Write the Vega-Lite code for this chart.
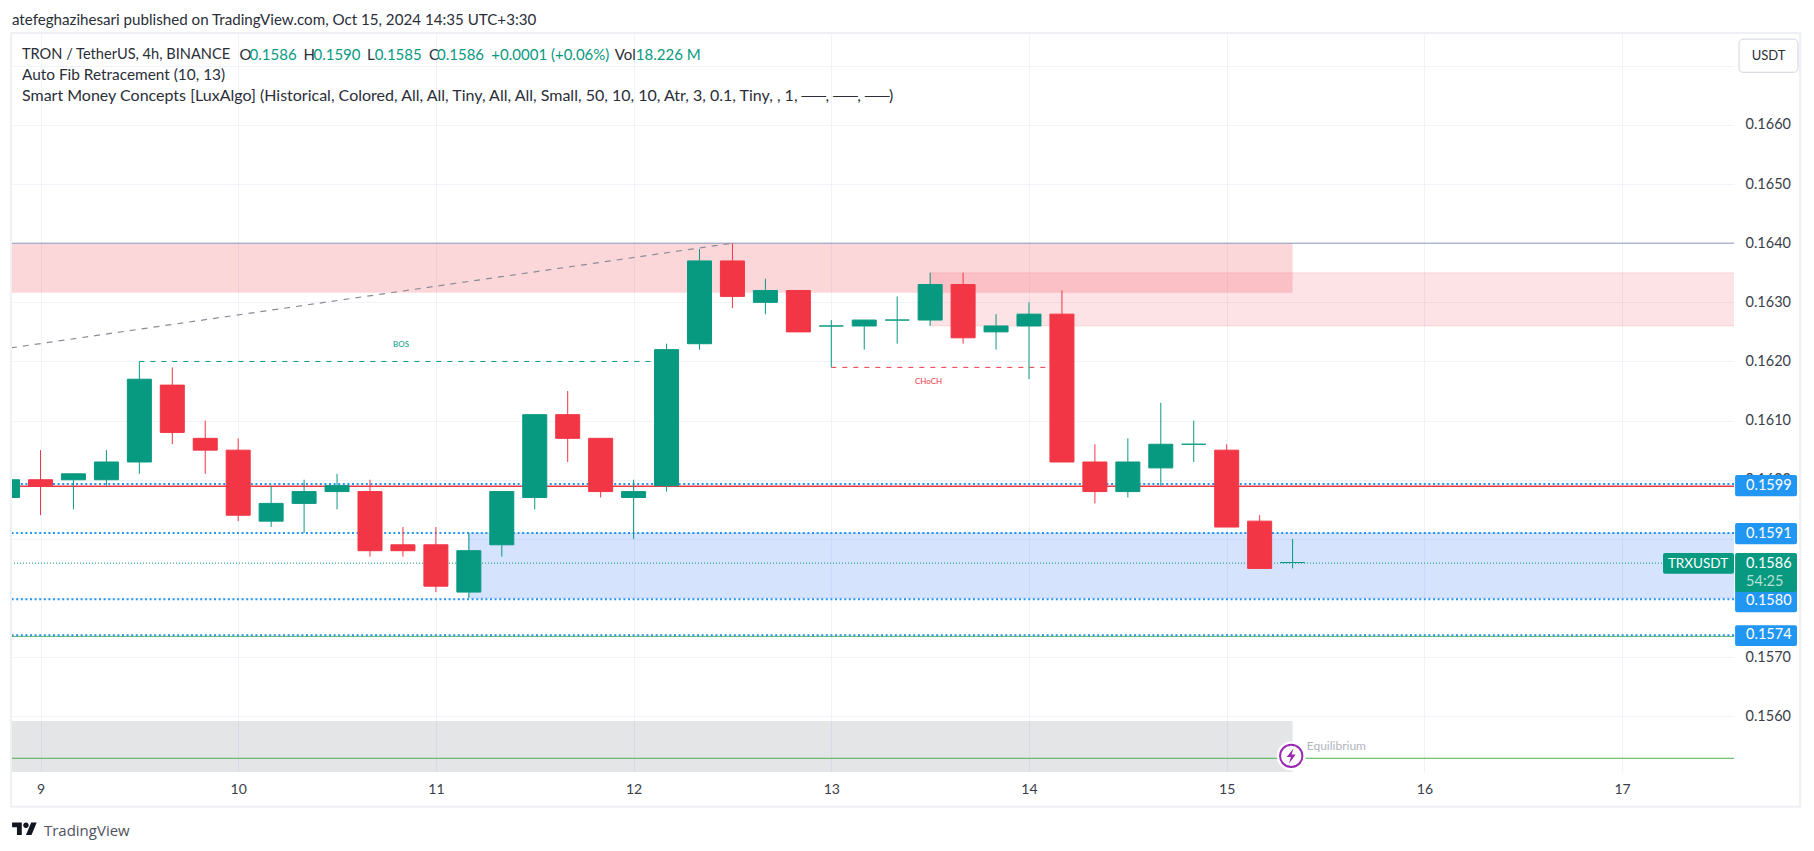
{"$schema":"https://vega.github.io/schema/vega-lite/v6.json","width":1722,"height":739,"autosize":"none","padding":{"left":12,"top":33,"right":80,"bottom":79},"background":"#ffffff","view":{"stroke":null},
"config":{"font":"Lato","axis":{"labelFont":"Lato","grid":true,"gridColor":"#f0f3fa","gridWidth":1,"ticks":false,"domain":false,"title":null}},
"datasets":{"candles":[
{"time":"2024-10-08T20:00:00Z","open":0.1597,"high":0.16,"low":0.1597,"close":0.16},
{"time":"2024-10-09T00:00:00Z","open":0.16,"high":0.1605,"low":0.1594,"close":0.1599},
{"time":"2024-10-09T04:00:00Z","open":0.16,"high":0.1601,"low":0.1595,"close":0.1601},
{"time":"2024-10-09T08:00:00Z","open":0.16,"high":0.1605,"low":0.1599,"close":0.1603},
{"time":"2024-10-09T12:00:00Z","open":0.1603,"high":0.162,"low":0.1601,"close":0.1617},
{"time":"2024-10-09T16:00:00Z","open":0.1616,"high":0.1619,"low":0.1606,"close":0.1608},
{"time":"2024-10-09T20:00:00Z","open":0.1607,"high":0.161,"low":0.1601,"close":0.1605},
{"time":"2024-10-10T00:00:00Z","open":0.1605,"high":0.1607,"low":0.1593,"close":0.1594},
{"time":"2024-10-10T04:00:00Z","open":0.1593,"high":0.1599,"low":0.1592,"close":0.1596},
{"time":"2024-10-10T08:00:00Z","open":0.1596,"high":0.16,"low":0.1591,"close":0.1598},
{"time":"2024-10-10T12:00:00Z","open":0.1598,"high":0.1601,"low":0.1595,"close":0.1599},
{"time":"2024-10-10T16:00:00Z","open":0.1598,"high":0.16,"low":0.1587,"close":0.1588},
{"time":"2024-10-10T20:00:00Z","open":0.1589,"high":0.1592,"low":0.1587,"close":0.1588},
{"time":"2024-10-11T00:00:00Z","open":0.1589,"high":0.1592,"low":0.1581,"close":0.1582},
{"time":"2024-10-11T04:00:00Z","open":0.1581,"high":0.1591,"low":0.158,"close":0.1588},
{"time":"2024-10-11T08:00:00Z","open":0.1589,"high":0.1598,"low":0.1587,"close":0.1598},
{"time":"2024-10-11T12:00:00Z","open":0.1597,"high":0.1611,"low":0.1595,"close":0.1611},
{"time":"2024-10-11T16:00:00Z","open":0.1611,"high":0.1615,"low":0.1603,"close":0.1607},
{"time":"2024-10-11T20:00:00Z","open":0.1607,"high":0.1607,"low":0.1597,"close":0.1598},
{"time":"2024-10-12T00:00:00Z","open":0.1597,"high":0.16,"low":0.159,"close":0.1598},
{"time":"2024-10-12T04:00:00Z","open":0.1599,"high":0.1623,"low":0.1598,"close":0.1622},
{"time":"2024-10-12T08:00:00Z","open":0.1623,"high":0.1639,"low":0.1622,"close":0.1637},
{"time":"2024-10-12T12:00:00Z","open":0.1637,"high":0.164,"low":0.1629,"close":0.1631},
{"time":"2024-10-12T16:00:00Z","open":0.163,"high":0.1634,"low":0.1628,"close":0.1632},
{"time":"2024-10-12T20:00:00Z","open":0.1632,"high":0.1632,"low":0.1625,"close":0.1625},
{"time":"2024-10-13T00:00:00Z","open":0.1626,"high":0.1627,"low":0.1619,"close":0.1626},
{"time":"2024-10-13T04:00:00Z","open":0.1626,"high":0.1627,"low":0.1622,"close":0.1627},
{"time":"2024-10-13T08:00:00Z","open":0.1627,"high":0.1631,"low":0.1623,"close":0.1627},
{"time":"2024-10-13T12:00:00Z","open":0.1627,"high":0.1635,"low":0.1626,"close":0.1633},
{"time":"2024-10-13T16:00:00Z","open":0.1633,"high":0.1635,"low":0.1623,"close":0.1624},
{"time":"2024-10-13T20:00:00Z","open":0.1625,"high":0.1628,"low":0.1622,"close":0.1626},
{"time":"2024-10-14T00:00:00Z","open":0.1626,"high":0.163,"low":0.1617,"close":0.1628},
{"time":"2024-10-14T04:00:00Z","open":0.1628,"high":0.1632,"low":0.1603,"close":0.1603},
{"time":"2024-10-14T08:00:00Z","open":0.1603,"high":0.1606,"low":0.1596,"close":0.1598},
{"time":"2024-10-14T12:00:00Z","open":0.1598,"high":0.1607,"low":0.1597,"close":0.1603},
{"time":"2024-10-14T16:00:00Z","open":0.1602,"high":0.1613,"low":0.1599,"close":0.1606},
{"time":"2024-10-14T20:00:00Z","open":0.1606,"high":0.161,"low":0.1603,"close":0.1606},
{"time":"2024-10-15T00:00:00Z","open":0.1605,"high":0.1606,"low":0.1592,"close":0.1592},
{"time":"2024-10-15T04:00:00Z","open":0.1593,"high":0.1594,"low":0.1585,"close":0.1585},
{"time":"2024-10-15T08:00:00Z","open":0.1586,"high":0.159,"low":0.1585,"close":0.1586}
],
"zoneTop":[{"start":"2024-10-08T20:00:00Z","end":"2024-10-15T08:00:00Z","top":0.164,"bottom":0.16316}],
"labels":[{"time":"2024-10-10T00:10:00Z","price":0.16718,"label":"O"},{"time":"2024-10-10T07:56:00Z","price":0.16718,"label":"H"},{"time":"2024-10-10T15:38:00Z","price":0.16718,"label":"L"},{"time":"2024-10-10T23:10:00Z","price":0.16718,"label":"C"},{"time":"2024-10-11T21:42:00Z","price":0.16718,"label":"Vol"}]},
"layer":[
{"data":{"name":"zoneTop"},
 "mark":{"type":"rect","clip":true,"fill":"#f23645","fillOpacity":0.2},
 "encoding":{"x":{"field":"start","type":"temporal","scale":{"type":"utc","domain":[1728419544759,1729172103531],"nice":false,"padding":0},"axis":{"values":[1728432000000,1728518400000,1728604800000,1728691200000,1728777600000,1728864000000,1728950400000,1729036800000,1729123200000],"format":"%-d","labelFontSize":14,"labelColor":"#3a3e4a","labelPadding":10,"orient":"bottom"}},"x2":{"field":"end"},
 "y":{"field":"top","type":"quantitative","scale":{"domain":[0.155058,0.167554],"nice":false,"zero":false},"axis":{"orient":"right","values":[0.156,0.157,0.158,0.159,0.16,0.161,0.162,0.163,0.164,0.165,0.166,0.167],"labelExpr":"datum.value>0.1665?'':format(datum.value,'.4f')","labelFontSize":14.5,"labelColor":"#3a3e4a","labelPadding":11}},"y2":{"field":"bottom"}}},
{"data":{"values":[{"start":"2024-10-13T12:00:00Z","end":"2024-10-17T13:40:00Z","top":0.1635,"bottom":0.1626}]},
 "mark":{"type":"rect","clip":true,"fill":"#f23645","fillOpacity":0.14,"stroke":"#f23645","strokeOpacity":0.12,"strokeWidth":1},
 "encoding":{"x":{"field":"start","type":"temporal"},"x2":{"field":"end"},"y":{"field":"top","type":"quantitative"},"y2":{"field":"bottom"}}},
{"data":{"values":[{"start":"2024-10-11T04:00:00Z","end":"2024-10-17T13:40:00Z","top":0.1591,"bottom":0.158}]},
 "mark":{"type":"rect","clip":true,"fill":"#276cf5","fillOpacity":0.19,"stroke":"#276cf5","strokeOpacity":0.12,"strokeWidth":1},
 "encoding":{"x":{"field":"start","type":"temporal"},"x2":{"field":"end"},"y":{"field":"top","type":"quantitative"},"y2":{"field":"bottom"}}},
{"data":{"values":[{"start":"2024-10-08T20:00:00Z","end":"2024-10-15T08:00:00Z","top":0.15592,"bottom":0.15}]},
 "mark":{"type":"rect","clip":true,"fill":"#787b86","fillOpacity":0.2},
 "encoding":{"x":{"field":"start","type":"temporal"},"x2":{"field":"end"},"y":{"field":"top","type":"quantitative"},"y2":{"field":"bottom"}}},
{"data":{"values":[{"price":0.164}]},"mark":{"type":"rule","color":"#8a9bbf","strokeWidth":1},"encoding":{"y":{"field":"price","type":"quantitative"}}},
{"data":{"values":[{"price":0.15529}]},"mark":{"type":"rule","color":"#4caf50","strokeWidth":1},"encoding":{"y":{"field":"price","type":"quantitative"}}},
{"data":{"values":[{"price":0.15735}]},"mark":{"type":"rule","color":"#66bb6a","strokeWidth":1},"encoding":{"y":{"field":"price","type":"quantitative"}}},
{"data":{"values":[{"price":0.15989}]},"mark":{"type":"rule","color":"#f23645","strokeWidth":1.4},"encoding":{"y":{"field":"price","type":"quantitative"}}},
{"data":{"values":[{"price":0.15859}]},"mark":{"type":"rule","color":"#089981","strokeWidth":1,"strokeDash":[1,2]},"encoding":{"y":{"field":"price","type":"quantitative"}}},
{"data":{"values":[{"price":0.15993},{"price":0.1591},{"price":0.15798},{"price":0.15737}]},"mark":{"type":"rule","color":"#2196f3","strokeWidth":2,"strokeDash":[2,2.6]},"encoding":{"y":{"field":"price","type":"quantitative"}}},
{"data":{"values":[{"time":"2024-10-08T20:25:00Z","price":0.16223},{"time":"2024-10-12T12:00:00Z","price":0.164}]},"mark":{"type":"line","clip":true,"color":"#8a8d97","strokeWidth":1.2,"strokeDash":[6,6]},"encoding":{"x":{"field":"time","type":"temporal"},"y":{"field":"price","type":"quantitative"}}},
{"data":{"values":[{"time":"2024-10-09T12:00:00Z","price":0.162},{"time":"2024-10-12T04:00:00Z","price":0.162}]},"mark":{"type":"line","color":"#089981","strokeWidth":1,"strokeDash":[5,6]},"encoding":{"x":{"field":"time","type":"temporal"},"y":{"field":"price","type":"quantitative"}}},
{"data":{"values":[{"time":"2024-10-13T00:00:00Z","price":0.1619},{"time":"2024-10-14T04:00:00Z","price":0.1619}]},"mark":{"type":"line","color":"#f23645","strokeWidth":1,"strokeDash":[5,6]},"encoding":{"x":{"field":"time","type":"temporal"},"y":{"field":"price","type":"quantitative"}}},
{"data":{"name":"candles"},"mark":{"type":"rule","clip":true,"strokeWidth":1},
 "encoding":{"x":{"field":"time","type":"temporal"},"y":{"field":"low","type":"quantitative"},"y2":{"field":"high"},"color":{"condition":{"test":"datum.close>=datum.open","value":"#089981"},"value":"#f23645"}}},
{"data":{"name":"candles"},"mark":{"type":"bar","clip":true,"size":24,"strokeWidth":1},
 "encoding":{"x":{"field":"time","type":"temporal","scale":{"padding":0}},"y":{"field":"open","type":"quantitative"},"y2":{"field":"close"},"color":{"condition":{"test":"datum.close>=datum.open","value":"#089981"},"value":"#f23645"},"stroke":{"condition":{"test":"datum.close>=datum.open","value":"#089981"},"value":"#f23645"}}},
{"data":{"values":[{"start":"2024-10-08T20:25:00Z","end":"2024-10-17T21:37:00Z","top":0.167554,"bottom":0.15447}]},
 "mark":{"type":"rect","fill":null,"fillOpacity":0,"stroke":"#eff0f6","strokeWidth":2},
 "encoding":{"x":{"field":"start","type":"temporal"},"x2":{"field":"end"},"y":{"field":"top","type":"quantitative"},"y2":{"field":"bottom"}}},
{"data":{"values":[{"time":"2024-10-15T07:50:00Z","price":0.15533}]},"mark":{"type":"point","filled":true,"fill":"#ffffff","stroke":"#ffffff","size":730,"opacity":1},"encoding":{"x":{"field":"time","type":"temporal"},"y":{"field":"price","type":"quantitative"}}},
{"data":{"values":[{"time":"2024-10-15T07:50:00Z","price":0.15533}]},"mark":{"type":"point","fill":"#ffffff","stroke":"#9c27b0","strokeWidth":2,"size":500,"opacity":1},"encoding":{"x":{"field":"time","type":"temporal"},"y":{"field":"price","type":"quantitative"}}},
{"data":{"values":[{"time":"2024-10-15T07:50:00Z","price":0.15533}]},"mark":{"type":"point","filled":true,"fill":"#9c27b0","stroke":null,"opacity":1,"size":225,"shape":"M0.3,-1 L-0.6,0.15 L-0.05,0.15 L-0.3,1 L0.6,-0.2 L0.05,-0.2 Z"},"encoding":{"x":{"field":"time","type":"temporal"},"y":{"field":"price","type":"quantitative"}}},
{"data":{"values":[{"start":"2024-10-17T13:43:00Z","end":"2024-10-17T21:14:00Z","top":0.16008,"bottom":0.15972},{"start":"2024-10-17T13:43:00Z","end":"2024-10-17T21:14:00Z","top":0.15927,"bottom":0.15891},{"start":"2024-10-17T13:43:00Z","end":"2024-10-17T21:14:00Z","top":0.15814,"bottom":0.15776},{"start":"2024-10-17T13:43:00Z","end":"2024-10-17T21:14:00Z","top":0.15754,"bottom":0.15719}]},
 "mark":{"type":"rect","fill":"#2196f3","cornerRadius":2},
 "encoding":{"x":{"field":"start","type":"temporal"},"x2":{"field":"end"},"y":{"field":"top","type":"quantitative"},"y2":{"field":"bottom"}}},
{"data":{"values":[{"start":"2024-10-17T13:43:00Z","end":"2024-10-17T21:14:00Z","top":0.15876,"bottom":0.1581},{"start":"2024-10-17T04:58:00Z","end":"2024-10-17T13:35:00Z","top":0.15876,"bottom":0.15841}]},
 "mark":{"type":"rect","fill":"#089981","cornerRadius":2},
 "encoding":{"x":{"field":"start","type":"temporal"},"x2":{"field":"end"},"y":{"field":"top","type":"quantitative"},"y2":{"field":"bottom"}}},
{"data":{"values":[{"start":"2024-10-17T14:12:00Z","end":"2024-10-17T21:21:00Z","top":0.16745,"bottom":0.16689}]},
 "mark":{"type":"rect","fill":"#ffffff","stroke":"#d1d4dc","strokeWidth":1,"cornerRadius":4},
 "encoding":{"x":{"field":"start","type":"temporal"},"x2":{"field":"end"},"y":{"field":"top","type":"quantitative"},"y2":{"field":"bottom"}}},
{"data":{"name":"labels"},
 "mark":{"type":"text","align":"left","baseline":"middle","fontSize":15,"color":"#2a2e39"},
 "encoding":{"x":{"field":"time","type":"temporal"},"y":{"field":"price","type":"quantitative"},"text":{"field":"label"}}},
{"data":{"values":[{"time":"2024-10-08T21:45:00Z","price":0.16718,"label":"TRON / TetherUS, 4h, BINANCE"}]},
 "mark":{"type":"text","align":"left","baseline":"middle","fontSize":14.6,"color":"#2a2e39"},
 "encoding":{"x":{"field":"time","type":"temporal"},"y":{"field":"price","type":"quantitative"},"text":{"field":"label"}}},
{"data":{"values":[{"time":"2024-10-08T20:32:00Z","price":0.16777,"label":"atefeghazihesari published on TradingView.com, Oct 15, 2024 14:35 UTC+3:30"}]},
 "mark":{"type":"text","align":"left","baseline":"middle","fontSize":15.15,"color":"#2a2e39"},
 "encoding":{"x":{"field":"time","type":"temporal"},"y":{"field":"price","type":"quantitative"},"text":{"field":"label"}}},
{"data":{"values":[{"time":"2024-10-08T21:45:00Z","price":0.16684,"label":"Auto Fib Retracement (10, 13)"}]},
 "mark":{"type":"text","align":"left","baseline":"middle","fontSize":15.4,"color":"#2a2e39"},
 "encoding":{"x":{"field":"time","type":"temporal"},"y":{"field":"price","type":"quantitative"},"text":{"field":"label"}}},
{"data":{"values":[{"time":"2024-10-08T21:45:00Z","price":0.16649,"label":"Smart Money Concepts [LuxAlgo] (Historical, Colored, All, All, Tiny, All, All, Small, 50, 10, 10, Atr, 3, 0.1, Tiny, , 1, ──, ──, ──)"}]},
 "mark":{"type":"text","align":"left","baseline":"middle","fontSize":16,"color":"#2a2e39"},
 "encoding":{"x":{"field":"time","type":"temporal"},"y":{"field":"price","type":"quantitative"},"text":{"field":"label"}}},
{"data":{"values":[{"time":"2024-10-10T01:23:00Z","price":0.16718,"label":"0.1586"},{"time":"2024-10-10T09:08:00Z","price":0.16718,"label":"0.1590"},{"time":"2024-10-10T16:34:00Z","price":0.16718,"label":"0.1585"},{"time":"2024-10-11T00:08:00Z","price":0.16718,"label":"0.1586"},{"time":"2024-10-11T06:44:00Z","price":0.16718,"label":"+0.0001 (+0.06%)"},{"time":"2024-10-12T00:16:00Z","price":0.16718,"label":"18.226 M"}]},
 "mark":{"type":"text","align":"left","baseline":"middle","fontSize":15,"color":"#089981"},
 "encoding":{"x":{"field":"time","type":"temporal"},"y":{"field":"price","type":"quantitative"},"text":{"field":"label"}}},
{"data":{"values":[{"time":"2024-10-17T15:03:00Z","price":0.1599,"label":"0.1599"},{"time":"2024-10-17T15:03:00Z","price":0.15909,"label":"0.1591"},{"time":"2024-10-17T15:03:00Z","price":0.15858,"label":"0.1586"},{"time":"2024-10-17T15:03:00Z","price":0.15795,"label":"0.1580"},{"time":"2024-10-17T15:03:00Z","price":0.15737,"label":"0.1574"}]},
 "mark":{"type":"text","align":"left","baseline":"middle","fontSize":14.5,"color":"#ffffff"},
 "encoding":{"x":{"field":"time","type":"temporal"},"y":{"field":"price","type":"quantitative"},"text":{"field":"label"}}},
{"data":{"values":[{"time":"2024-10-17T15:03:00Z","price":0.15827,"label":"54:25"}]},
 "mark":{"type":"text","align":"left","baseline":"middle","fontSize":14.5,"color":"#b5e0d6"},
 "encoding":{"x":{"field":"time","type":"temporal"},"y":{"field":"price","type":"quantitative"},"text":{"field":"label"}}},
{"data":{"values":[{"time":"2024-10-17T09:13:00Z","price":0.15858,"label":"TRXUSDT"}]},
 "mark":{"type":"text","align":"center","baseline":"middle","fontSize":13.5,"color":"#ffffff"},
 "encoding":{"x":{"field":"time","type":"temporal"},"y":{"field":"price","type":"quantitative"},"text":{"field":"label"}}},
{"data":{"values":[{"time":"2024-10-17T17:47:00Z","price":0.16717,"label":"USDT"}]},
 "mark":{"type":"text","align":"center","baseline":"middle","fontSize":13,"color":"#2a2e39"},
 "encoding":{"x":{"field":"time","type":"temporal"},"y":{"field":"price","type":"quantitative"},"text":{"field":"label"}}},
{"data":{"values":[{"time":"2024-10-10T19:46:00Z","price":0.16228,"label":"BOS"}]},
 "mark":{"type":"text","align":"center","baseline":"middle","fontSize":8,"color":"#089981"},
 "encoding":{"x":{"field":"time","type":"temporal"},"y":{"field":"price","type":"quantitative"},"text":{"field":"label"}}},
{"data":{"values":[{"time":"2024-10-13T11:48:00Z","price":0.16165,"label":"CHoCH"}]},
 "mark":{"type":"text","align":"center","baseline":"middle","fontSize":8,"color":"#f23645"},
 "encoding":{"x":{"field":"time","type":"temporal"},"y":{"field":"price","type":"quantitative"},"text":{"field":"label"}}},
{"data":{"values":[{"time":"2024-10-15T09:43:00Z","price":0.1555,"label":"Equilibrium"}]},
 "mark":{"type":"text","align":"left","baseline":"middle","fontSize":12,"color":"#b2b5be"},
 "encoding":{"x":{"field":"time","type":"temporal"},"y":{"field":"price","type":"quantitative"},"text":{"field":"label"}}},
{"data":{"values":[{"time":"2024-10-08T22:04:00Z","price":0.1541}]},"mark":{"type":"point","filled":true,"fill":"#131722","stroke":null,"opacity":1,"size":625,"shape":"M-0.222,0.5 H-0.611 V-0.111 H-1 V-0.5 H-0.222 Z M0.556,0.5 H0.111 L0.528,-0.5 H0.972 Z M-0.111,-0.278 a0.222,0.222 0 1,0 0.444,0 a0.222,0.222 0 1,0 -0.444,0 Z"},"encoding":{"x":{"field":"time","type":"temporal"},"y":{"field":"price","type":"quantitative"}}},
{"data":{"values":[{"time":"2024-10-09T00:25:00Z","price":0.15406,"label":"TradingView"}]},
 "mark":{"type":"text","align":"left","baseline":"middle","fontSize":15,"font":"Open Sans","color":"#50535e"},
 "encoding":{"x":{"field":"time","type":"temporal"},"y":{"field":"price","type":"quantitative"},"text":{"field":"label"}}}
]}
